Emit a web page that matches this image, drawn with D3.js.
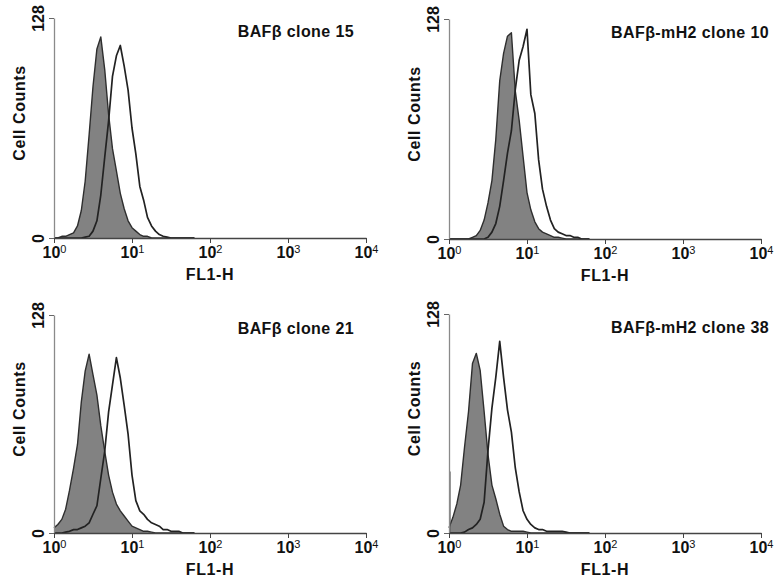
<!DOCTYPE html>
<html lang="en">
<head>
  <meta charset="UTF-8">
  <title>BAFβ clones – FL1-H histograms</title>
  <script src="https://d3js.org/d3.v7.min.js"></script>
  <style>
    body {
      margin: 0;
      padding: 0;
      background: #fff;
      font-family: 'Liberation Sans', Arial, sans-serif;
    }
    .axis text {
      font-size: 16px;
      font-weight: bold;
      fill: #111;
    }
    .label {
      font-size: 16px;
      font-weight: bold;
      letter-spacing: 0.6px;
      fill: #111;
    }
  </style>
</head>
<body>
  <div id="chart"></div>
  <script>
    const width = 777;
    const height = 584;

    // FL1-H channel centres (log spaced), shared by all histograms
    const fl1Bins = [1.00, 1.12, 1.26, 1.41, 1.58, 1.78, 2.00, 2.24, 2.51, 2.82,
                     3.16, 3.55, 3.98, 4.47, 5.01, 5.62, 6.31, 7.08, 7.94, 8.91,
                     10.0, 11.2, 12.6, 14.1, 15.8, 17.8, 20.0, 22.4, 25.1, 28.2,
                     31.6, 35.5, 39.8, 44.7, 50.1, 56.2, 63.1];
    const xTicks = [1, 10, 100, 1000, 10000];
    const yTicks = [0, 128];

    const panelTitles = ["BAFβ clone 15", "BAFβ-mH2 clone 10", "BAFβ clone 21", "BAFβ-mH2 clone 38"];

    // filled grey histograms (control)
    const clone15Control = [0, 0, 1, 1, 2, 3, 7, 16, 33, 60, 88, 110, 117, 98, 72, 52, 39, 26, 17, 10,
                            6, 4, 2, 1, 1, 0, 0, 0, 0, 0, 0, 0, 0, 0, 0, 0, 0];
    const clone10Control = [0, 0, 0, 0, 0, 0, 1, 2, 5, 11, 21, 34, 58, 92, 108, 118, 120, 86, 69, 48,
                            27, 17, 10, 6, 4, 3, 2, 1, 1, 0.5, 0, 0, 0, 0, 0, 0, 0];
    const clone21Control = [3, 5, 8, 14, 25, 38, 52, 77, 95, 105, 93, 81, 63, 48, 34, 24, 17, 13, 10, 7,
                            4, 3, 2, 1, 1, 0.5, 0, 0, 0, 0, 0, 0, 0, 0, 0, 0, 0];
    const clone38Control = [3, 9, 17, 28, 50, 71, 99, 105, 95, 71, 46, 28, 20, 11, 4, 2, 1, 1, 1, 1,
                            0.5, 0, 0, 0, 0, 0, 0, 0, 0, 0, 0, 0, 0, 0, 0, 0, 0];

    // open histograms (stained)
    const clone15Stained = [0, 0, 0, 0, 0, 0, 0, 0, 0.5, 1, 4, 10, 25, 47, 68, 94, 106, 112, 100, 86,
                            64, 49, 30, 22, 12, 7, 4, 2, 1, 0.5, 0, 0, 0, 0, 0, 0, 0];
    const clone10Stained = [0, 0, 0, 0, 0, 0, 0, 0, 0, 0, 1, 4, 9, 19, 34, 50, 63, 87, 104, 112,
                            122, 84, 73, 46, 29, 19, 11, 6, 4, 3, 2, 2, 1, 1, 0, 0, 0];
    const clone21Stained = [0, 0, 0, 0.5, 1, 2, 2, 3, 4, 6, 11, 16, 32, 48, 71, 87, 103, 91, 75, 58,
                            34, 19, 13, 11, 8, 6, 5, 4, 2, 2, 1, 1, 1, 0, 0, 0, 0];
    const clone38Stained = [0, 0, 0, 0, 0.5, 2, 3, 5, 8, 18, 48, 73, 91, 112, 91, 72, 59, 38, 24, 13,
                            8, 5, 3, 2, 2, 1, 1, 1, 1, 1, 0.5, 0, 0, 0, 0, 0, 0];

    // events piled up in the first channel
    const firstChannelPileUp = [0, 0, 0, 36];

    const panels = [
      { left: 54,  right: 366, top: 18,  bottom: 238, control: clone15Control, stained: clone15Stained },
      { left: 449, right: 761, top: 19,  bottom: 239, control: clone10Control, stained: clone10Stained },
      { left: 54,  right: 366, top: 315, bottom: 533, control: clone21Control, stained: clone21Stained },
      { left: 449, right: 761, top: 314, bottom: 533, control: clone38Control, stained: clone38Stained }
    ];
    panels.forEach((p, i) => { p.title = panelTitles[i]; p.pileUp = firstChannelPileUp[i]; });

    const svg = d3.select("#chart")
      .append("svg")
      .attr("width", width)
      .attr("height", height)
      .style("display", "block");

    svg.append("rect").attr("width", width).attr("height", height).attr("fill", "#fff");

    panels.forEach(p => {
      const g = svg.append("g");

      const x = d3.scaleLog().domain([1, 10000]).range([p.left, p.right]);
      const y = d3.scaleLinear().domain([0, 128]).range([p.bottom, p.top]);

      const area = d3.area()
        .x((d, i) => x(fl1Bins[i]))
        .y0(y(0))
        .y1(d => y(d));
      const line = d3.line()
        .x((d, i) => x(fl1Bins[i]))
        .y(d => y(d));

      // control histogram: grey fill with dark outline
      g.append("path")
        .attr("d", area(p.control))
        .attr("fill", "#828282");
      g.append("path")
        .attr("d", line(p.control))
        .attr("fill", "none")
        .attr("stroke", "#2e2e2e")
        .attr("stroke-width", 1.4)
        .attr("stroke-linejoin", "round");

      if (p.pileUp > 0) {
        g.append("line")
          .attr("x1", x(1) + 1).attr("x2", x(1) + 1)
          .attr("y1", y(0)).attr("y2", y(p.pileUp))
          .attr("stroke", "#555")
          .attr("stroke-width", 1.2);
      }

      // stained histogram: open outline
      g.append("path")
        .attr("d", line(p.stained))
        .attr("fill", "none")
        .attr("stroke", "#222")
        .attr("stroke-width", 1.7)
        .attr("stroke-linejoin", "round");

      // y axis
      const yAxis = g.append("g")
        .attr("class", "axis")
        .attr("transform", `translate(${p.left},0)`)
        .call(d3.axisLeft(y).tickValues(yTicks).tickSize(5).tickSizeOuter(0));
      yAxis.select(".domain").attr("stroke", "#8a8a8a").attr("stroke-width", 1.3);
      yAxis.selectAll(".tick line").attr("stroke", "#666");
      yAxis.selectAll(".tick text")
        .attr("transform", "rotate(-90)")
        .attr("x", 0)
        .attr("y", -10)
        .attr("dy", 0)
        .attr("text-anchor", "middle");

      // x axis
      const xAxis = g.append("g")
        .attr("class", "axis")
        .attr("transform", `translate(0,${p.bottom})`)
        .call(d3.axisBottom(x).tickValues(xTicks).tickSize(5).tickSizeOuter(0).tickFormat(""));
      xAxis.select(".domain").attr("stroke", "#444").attr("stroke-width", 1.3);
      xAxis.selectAll(".tick line").attr("stroke", "#444");
      const tickText = xAxis.selectAll(".tick text")
        .attr("y", 9)
        .attr("dy", "0.71em")
        .attr("text-anchor", "middle");
      tickText.append("tspan").text("10");
      tickText.append("tspan")
        .attr("dy", "-0.45em")
        .attr("font-size", "11px")
        .attr("font-weight", "normal")
        .text(d => Math.round(Math.log10(d)));

      // axis titles
      g.append("text")
        .attr("class", "label")
        .attr("x", (p.left + p.right) / 2)
        .attr("y", p.bottom + 42)
        .attr("text-anchor", "middle")
        .text("FL1-H");

      g.append("text")
        .attr("class", "label")
        .attr("transform", `translate(${p.left - 29},${(p.top + p.bottom) / 2 - 15}) rotate(-90)`)
        .attr("text-anchor", "middle")
        .text("Cell Counts");

      // panel title
      g.append("text")
        .attr("class", "label")
        .attr("x", p.left < 200 ? p.right - 12 : p.right + 8)
        .attr("y", p.top + 19)
        .attr("text-anchor", "end")
        .style("letter-spacing", "0.4px")
        .text(p.title);
    });
  </script>
</body>
</html>
